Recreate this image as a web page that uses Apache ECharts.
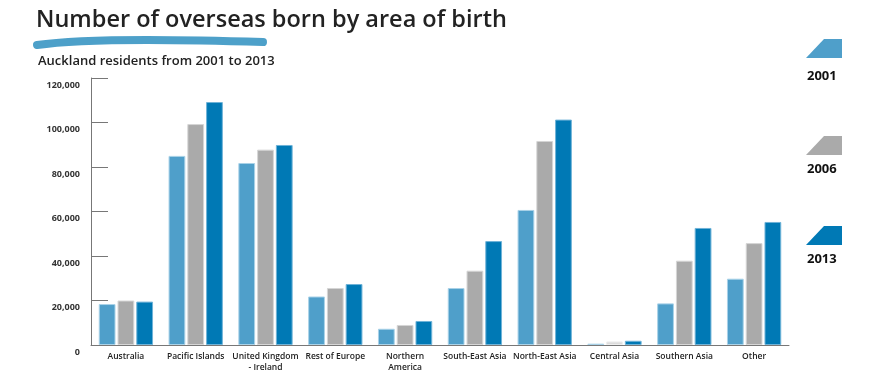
<!DOCTYPE html>
<html>
<head>
<meta charset="utf-8">
<script src="https://cdn.jsdelivr.net/npm/echarts@6/dist/echarts.min.js"></script>
<style>html,body{margin:0;padding:0;background:#fff;}#c{width:885px;height:380px;}</style>
</head>
<body>
<div id="c"></div>
<script>
var categories = ['Australia', 'Pacific Islands', 'United Kingdom\n- Ireland', 'Rest of Europe', 'Northern\nAmerica', 'South-East Asia', 'North-East Asia', 'Central Asia', 'Southern Asia', 'Other'];
var years = ['2001', '2006', '2013'];
var values2001 = [18400, 85000, 81800, 21800, 7300, 25600, 60700, 600, 18700, 29800];
var values2006 = [20000, 99300, 87800, 25600, 9000, 33400, 91700, 1600, 37900, 45800];
var values2013 = [19500, 109200, 89900, 27400, 10800, 46700, 101300, 1900, 52600, 55300];
var yTicks = [0, 20000, 40000, 60000, 80000, 100000, 120000];

var colors = ['#4f9fca', '#aaaaaa', '#0079b5'];
var borders = ['#a9d2e8', '#d6d6d6', '#6fb3d8'];
var font = '"Open Sans", "Noto Sans", sans-serif';

var chart = echarts.init(document.getElementById('c'));

function mkSeries(i, vals) {
  return {
    name: years[i], type: 'bar', data: vals.map(function (v, k) {
      if (i === 1 && k === 7) return { value: v, itemStyle: { color: '#dcdcdc', borderColor: '#eeeeee' } };
      return v;
    }),
    barWidth: '24%', barGap: '12%',
    itemStyle: { color: colors[i], borderColor: borders[i], borderWidth: 1 },
    animation: false
  };
}

function legendItem(i, y, ty) {
  return [
    { type: 'polygon', shape: { points: [[806, y + 19], [824, y], [842, y], [842, y + 19]] }, style: { fill: colors[i] } },
    { type: 'text', left: 807, top: ty, style: { text: years[i], font: 'bold 13px ' + font, fill: '#111' } }
  ];
}

chart.setOption({
  animation: false,
  title: [
    { text: 'Number of overseas born by area of birth', left: 31, top: 3,
      textStyle: { fontFamily: font, fontSize: 23.5, fontWeight: 600, color: '#222' } },
    { text: 'Auckland residents from 2001 to 2013', left: 33, top: 50,
      textStyle: { fontFamily: font, fontSize: 13, fontWeight: 600, color: '#222' } }
  ],
  grid: { left: 91, right: 96, top: 78, bottom: 35 },
  xAxis: {
    type: 'category', data: categories,
    axisLine: { lineStyle: { color: '#777', width: 1 } },
    axisTick: { inside: true, length: 6, lineStyle: { color: '#777' } },
    axisLabel: { fontFamily: font, fontSize: 8.5, fontWeight: 600, color: '#222', margin: 6, lineHeight: 11, interval: 0 }
  },
  yAxis: {
    type: 'value', min: 0, max: 120000, interval: 20000,
    axisLine: { show: true, lineStyle: { color: '#777', width: 1 } },
    axisTick: { show: true, inside: true, length: 17, lineStyle: { color: '#777' } },
    splitLine: { show: false },
    axisLabel: {
      fontFamily: font, fontSize: 9, fontWeight: 700, color: '#333', margin: 11,
      verticalAlign: 'top', lineHeight: 14,
      formatter: function (v) { return yTicks.indexOf(v) >= 0 ? v.toLocaleString('en-US') : ''; }
    }
  },
  series: [mkSeries(0, values2001), mkSeries(1, values2006), mkSeries(2, values2013)],
  graphic: [
    { type: 'bezierCurve', shape: { x1: 37, y1: 45, x2: 263, y2: 42, cpx1: 90, cpy1: 37, cpx2: 200, cpy2: 40 },
      style: { stroke: '#4da0c9', lineWidth: 8, lineCap: 'round', fill: null } }
  ].concat(legendItem(0, 39, 70), legendItem(1, 136, 163), legendItem(2, 226, 253))
});
</script>
</body>
</html>
